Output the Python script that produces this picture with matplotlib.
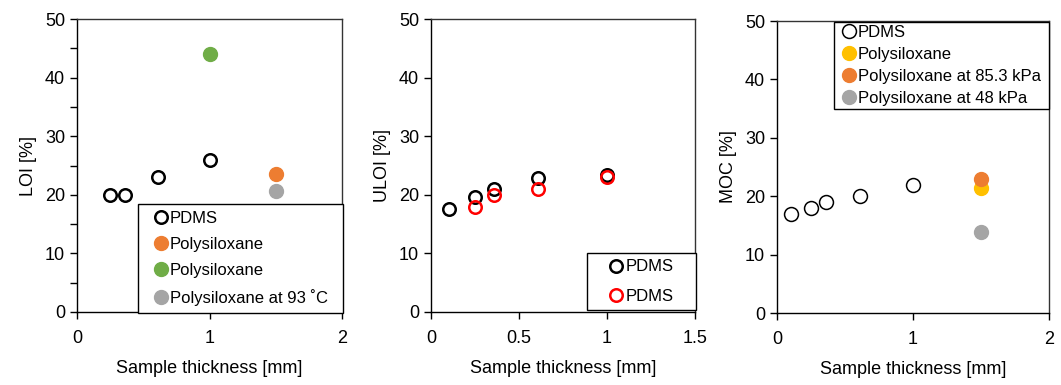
import matplotlib as mpl
import matplotlib.pyplot as plt
from matplotlib.patches import Rectangle
from matplotlib.ticker import FuncFormatter, MultipleLocator

mpl.rcParams["font.family"] = ["Liberation Sans", "DejaVu Sans"]
mpl.rcParams["font.size"] = 13

# LOI panel
loi_pdms_x = [0.25, 0.36, 0.61, 1.0]
loi_pdms_y = [20.0, 20.0, 23.0, 26.0]
loi_poly_x = [1.5]
loi_poly_y = [23.5]
loi_poly2_x = [1.0]
loi_poly2_y = [44.0]
loi_hot_x = [1.5]
loi_hot_y = [20.6]

# ULOI panel
uloi_a_x = [0.1, 0.25, 0.36, 0.61, 1.0]
uloi_a_y = [17.5, 19.7, 21.0, 22.8, 23.4]
uloi_b_x = [0.25, 0.36, 0.61, 1.0]
uloi_b_y = [18.0, 20.0, 21.0, 23.0]

# MOC panel
moc_pdms_x = [0.1, 0.25, 0.36, 0.61, 1.0]
moc_pdms_y = [17.0, 18.0, 19.0, 20.0, 22.0]
moc_poly_x = [1.5]
moc_poly_y = [21.4]
moc_853_x = [1.5]
moc_853_y = [23.0]
moc_48_x = [1.5]
moc_48_y = [13.8]

ORANGE = "#ED7D31"
GREEN = "#70AD47"
GRAY = "#A5A5A5"
YELLOW = "#FFC000"
RED = "#FF0000"

W, H = 1061, 385
fig = plt.figure(figsize=(W / 100, H / 100), dpi=100)


def px_axes(left, right, top, bottom):
    return fig.add_axes([left / W, 1 - bottom / H, (right - left) / W, (bottom - top) / H])


def style(ax, xmax, xstep, ylabel):
    ax.set_xlim(0, xmax)
    ax.set_ylim(0, 50)
    ax.xaxis.set_major_locator(MultipleLocator(xstep))
    ax.yaxis.set_major_locator(MultipleLocator(10))
    ax.xaxis.set_major_formatter(FuncFormatter(lambda v, p: f"{v:g}"))
    ax.tick_params(direction="out", length=5, width=1, labelsize=13, colors="black")
    ax.tick_params(axis="x", pad=8)
    for s in ax.spines.values():
        s.set_linewidth(1)
    ax.spines["top"].set_color("#333333")
    ax.spines["right"].set_color("#333333")
    ax.set_xlabel("Sample thickness [mm]", fontsize=13, labelpad=9)
    ax.set_ylabel(ylabel, fontsize=13, labelpad=6)


def leg(ax, x0, y0, x1, y1, spacing):
    # frame drawn by hand so the entries sit centred in a wider box
    ax.add_patch(Rectangle((x0, y0), x1 - x0, y1 - y0, transform=ax.transAxes,
                           facecolor="white", edgecolor="black", lw=1,
                           clip_on=False, zorder=4.5))
    ax.legend(loc="center", bbox_to_anchor=((x0 + x1) / 2, (y0 + y1) / 2),
              borderaxespad=0, fontsize=12, frameon=False,
              handlelength=0.8, handletextpad=0.15, labelspacing=spacing,
              borderpad=0.0)


# panel 1
ax1 = px_axes(77, 342, 19, 312)
ax1.plot(loi_pdms_x, loi_pdms_y, "o", ms=9, mfc="white", mec="black", mew=1.8, label="PDMS")
ax1.plot(loi_poly_x, loi_poly_y, "o", ms=10, color=ORANGE, label="Polysiloxane")
ax1.plot(loi_poly2_x, loi_poly2_y, "o", ms=10, color=GREEN, label="Polysiloxane")
ax1.plot(loi_hot_x, loi_hot_y, "o", ms=10, color=GRAY, label="Polysiloxane at 93 \u02daC")
style(ax1, 2, 1, "LOI [%]")
ax1.yaxis.set_minor_locator(MultipleLocator(5))
ax1.tick_params(axis="y", which="minor", direction="out", length=5, width=1)
leg(ax1, 0.232, -0.003, 1.005, 0.369, 0.65)

# panel 2
ax2 = px_axes(431, 695, 19, 312)
ax2.plot(uloi_a_x, uloi_a_y, "o", ms=9, mfc="none", mec="black", mew=1.8, label="PDMS")
ax2.plot(uloi_b_x, uloi_b_y, "o", ms=9, mfc="none", mec=RED, mew=1.8, label="PDMS")
style(ax2, 1.5, 0.5, "ULOI [%]")
leg(ax2, 0.590, 0.006, 1.005, 0.202, 0.85)

# panel 3
ax3 = px_axes(777, 1049, 21, 313)
ax3.plot(moc_pdms_x, moc_pdms_y, "o", ms=10, mfc="white", mec="black", mew=1.1, label="PDMS")
ax3.plot(moc_poly_x, moc_poly_y, "o", ms=10, color=YELLOW, label="Polysiloxane")
ax3.plot(moc_853_x, moc_853_y, "o", ms=10, color=ORANGE, label="Polysiloxane at 85.3 kPa")
ax3.plot(moc_48_x, moc_48_y, "o", ms=10, color=GRAY, label="Polysiloxane at 48 kPa")
style(ax3, 2, 1, "MOC [%]")
leg(ax3, 0.2096, 0.698, 1.0, 0.9966, 0.42)

fig.savefig("out.png", dpi=100)
